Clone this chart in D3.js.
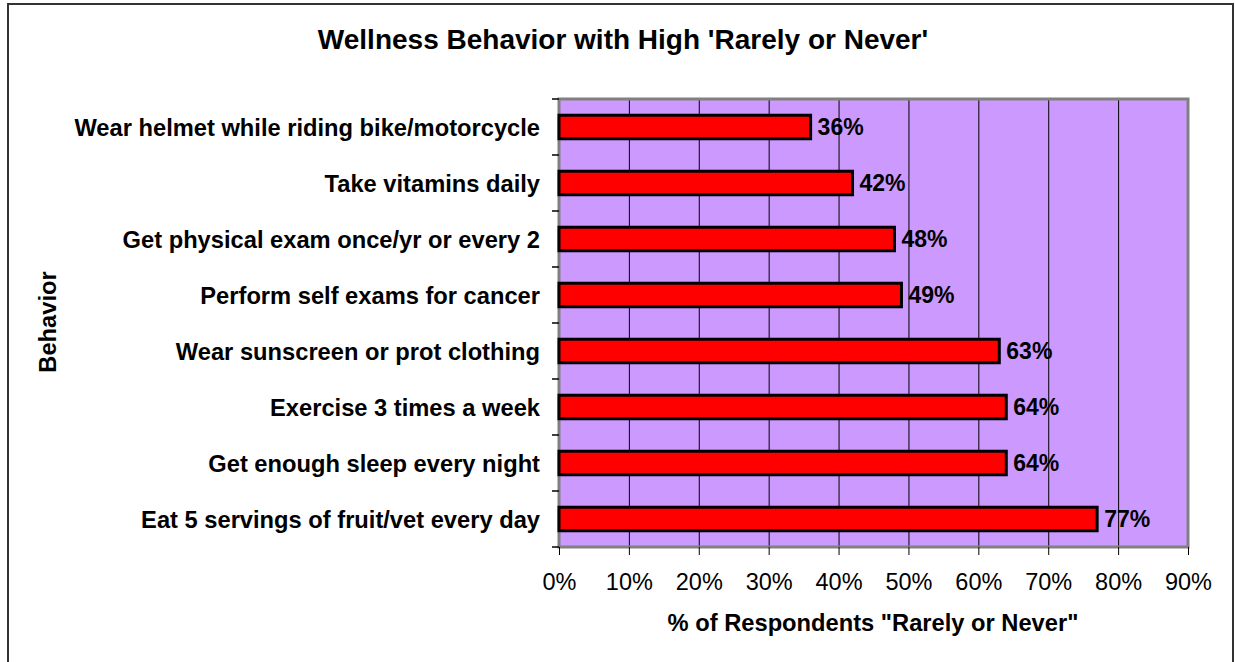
<!DOCTYPE html>
<html lang="en">
  <head>
    <meta charset="UTF-8" />
    <title>Wellness Behavior with High 'Rarely or Never'</title>
    <style>
      body {
        margin: 0;
        background: #fff;
        font-family: Arial, "Liberation Sans", sans-serif;
      }
      svg {
        display: block;
      }
    </style>
  </head>
  <body>
    <svg id="chart" width="1235" height="662"></svg>
    <script src="https://d3js.org/d3.v7.min.js"></script>
    <script>
      // chart data, top to bottom as drawn
      const behaviors = [
        "Wear helmet while riding bike/motorcycle",
        "Take vitamins daily",
        "Get physical exam once/yr or every 2",
        "Perform self exams for cancer",
        "Wear sunscreen or prot clothing",
        "Exercise 3 times a week",
        "Get enough sleep every night",
        "Eat 5 servings of fruit/vet every day",
      ];
      const rarelyOrNever = [0.36, 0.42, 0.48, 0.49, 0.63, 0.64, 0.64, 0.77];
      const xTicks = [0, 0.1, 0.2, 0.3, 0.4, 0.5, 0.6, 0.7, 0.8, 0.9];

      const svg = d3.select("#chart");
      const plot = { left: 559, top: 99, right: 1188, bottom: 547 };

      // outer chart frame
      svg
        .append("rect")
        .attr("x", 8)
        .attr("y", 4)
        .attr("width", 1225)
        .attr("height", 700)
        .attr("fill", "#fff")
        .attr("stroke", "#333")
        .attr("stroke-width", 2);

      const x = d3.scaleLinear().domain([0, 0.9]).range([plot.left, plot.right]);
      const y = d3
        .scaleBand()
        .domain(behaviors)
        .range([plot.top, plot.bottom])
        .paddingInner(0.58)
        .paddingOuter(0.29);

      // plot area background
      svg
        .append("rect")
        .attr("x", plot.left)
        .attr("y", plot.top)
        .attr("width", plot.right - plot.left)
        .attr("height", plot.bottom - plot.top)
        .attr("fill", "#CC99FF");

      // gridlines
      svg
        .append("g")
        .selectAll("line")
        .data(xTicks.slice(1, -1))
        .join("line")
        .attr("x1", (d) => x(d) + 0.5)
        .attr("x2", (d) => x(d) + 0.5)
        .attr("y1", plot.top)
        .attr("y2", plot.bottom)
        .attr("stroke", "#000")
        .attr("stroke-width", 1);

      // plot area border
      svg
        .append("rect")
        .attr("x", plot.left)
        .attr("y", plot.top)
        .attr("width", plot.right - plot.left)
        .attr("height", plot.bottom - plot.top)
        .attr("fill", "none")
        .attr("stroke", "#808080")
        .attr("stroke-width", 3);

      // x axis
      const xAxis = svg
        .append("g")
        .attr("transform", `translate(0,${plot.bottom})`)
        .call(
          d3
            .axisBottom(x)
            .tickValues(xTicks)
            .tickFormat(d3.format(".0%"))
            .tickSize(8)
            .tickPadding(18)
        );
      xAxis.select(".domain").remove();
      xAxis.selectAll("line").attr("stroke", "#000");
      xAxis
        .selectAll("text")
        .attr("font-size", 23.5)
        .attr("font-family", "Arial, 'Liberation Sans', sans-serif")
        .attr("fill", "#000");

      // y axis ticks at band boundaries
      const bandEdges = d3.range(behaviors.length + 1).map(
        (i) => plot.top + (i * (plot.bottom - plot.top)) / behaviors.length
      );
      svg
        .append("g")
        .selectAll("line")
        .data(bandEdges)
        .join("line")
        .attr("x1", plot.left - 7)
        .attr("x2", plot.left)
        .attr("y1", (d) => d)
        .attr("y2", (d) => d)
        .attr("stroke", "#000")
        .attr("stroke-width", 1.5);

      // category labels
      svg
        .append("g")
        .selectAll("text")
        .data(behaviors)
        .join("text")
        .attr("x", plot.left - 19)
        .attr("y", (d) => y(d) + y.bandwidth() / 2)
        .attr("dy", "0.36em")
        .attr("text-anchor", "end")
        .attr("font-size", 23.7)
        .attr("font-weight", "bold")
        .text((d) => d);

      // bars
      svg
        .append("g")
        .selectAll("rect")
        .data(behaviors)
        .join("rect")
        .attr("x", plot.left)
        .attr("y", (d) => y(d))
        .attr("width", (d, i) => x(rarelyOrNever[i]) - plot.left)
        .attr("height", y.bandwidth())
        .attr("fill", "#FF0000")
        .attr("stroke", "#000")
        .attr("stroke-width", 3);

      // value labels
      svg
        .append("g")
        .selectAll("text")
        .data(behaviors)
        .join("text")
        .attr("x", (d, i) => x(rarelyOrNever[i]) + 7)
        .attr("y", (d) => y(d) + y.bandwidth() / 2)
        .attr("dy", "0.36em")
        .attr("font-size", 23)
        .attr("font-weight", "bold")
        .text((d, i) => d3.format(".0%")(rarelyOrNever[i]));

      // title
      svg
        .append("text")
        .attr("x", 623)
        .attr("y", 49)
        .attr("text-anchor", "middle")
        .attr("font-size", 28)
        .attr("font-weight", "bold")
        .text("Wellness Behavior with High 'Rarely or Never'");

      // axis titles
      svg
        .append("text")
        .attr("x", 873)
        .attr("y", 631)
        .attr("text-anchor", "middle")
        .attr("font-size", 23.7)
        .attr("font-weight", "bold")
        .text('% of Respondents "Rarely or Never"');

      svg
        .append("text")
        .attr("transform", "translate(56,322) rotate(-90)")
        .attr("text-anchor", "middle")
        .attr("font-size", 23.7)
        .attr("font-weight", "bold")
        .text("Behavior");
    </script>
  </body>
</html>
